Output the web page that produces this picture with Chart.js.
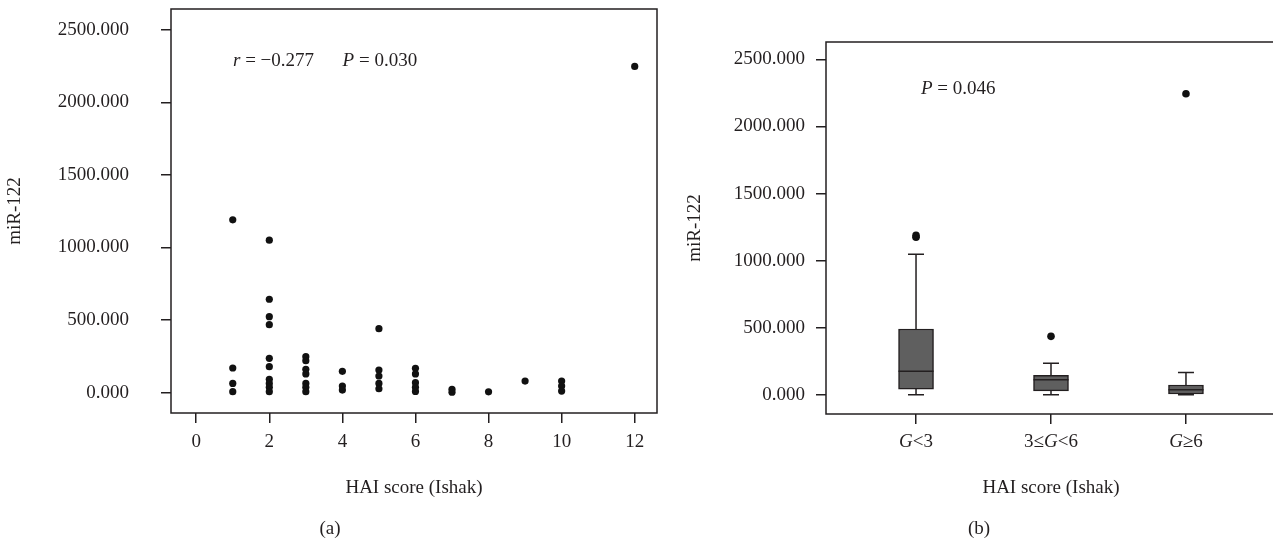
<!DOCTYPE html>
<html>
<head>
<meta charset="utf-8">
<script src="https://cdn.jsdelivr.net/npm/chart.js@4.4.0/dist/chart.umd.min.js"></script>
<style>
  html, body { margin: 0; padding: 0; background: #fff; overflow: hidden; }
  body { width: 1273px; height: 540px; position: relative; font-family: "Liberation Serif", serif; color: #231f20; }
  .panel { position: absolute; top: 0; height: 540px; }
  #wrapA { left: 0; width: 670px; }
  #wrapB { left: 680px; width: 600px; }
  .cap { position: absolute; top: 517px; font-size: 19px; line-height: 22px; transform: translateX(-50%); }
</style>
</head>
<body>
<div class="panel" id="wrapA"><canvas id="chartA" width="670" height="540"></canvas></div>
<div class="panel" id="wrapB"><canvas id="chartB" width="600" height="540"></canvas></div>
<div class="cap" style="left:330px">(a)</div>
<div class="cap" style="left:979px">(b)</div>
<script>
// (a) scatter: HAI score vs miR-122
const haiScore = [1, 1, 1, 1,
  2, 2, 2, 2, 2, 2, 2, 2, 2, 2,
  3, 3, 3, 3, 3, 3, 3,
  4, 4, 4,
  5, 5, 5, 5, 5,
  6, 6, 6, 6, 6,
  7, 7, 8, 9, 10, 10, 10, 12];
const mir122 = [1190, 169, 63, 6,
  1050, 643, 523, 468, 236, 178, 91, 63, 36, 6,
  247, 219, 160, 128, 63, 36, 6,
  146, 45, 17,
  440, 155, 114, 63, 26,
  167, 128, 68, 36, 8,
  22, 2, 5, 79, 79, 45, 10, 2247];
const xTicksA = [0, 2, 4, 6, 8, 10, 12];
const yTicks = [0, 500, 1000, 1500, 2000, 2500];

// (b) box plot by grade group
const groups = ['G<3', '3≤G<6', 'G≥6'];
const groupPos = [1, 2, 3];
const boxMin = [0, 0, 0];
const boxQ1 = [42, 28, 5];
const boxMedian = [174, 112, 37];
const boxQ3 = [490, 144, 72];
const boxMax = [1047, 234, 166];
const outlierGroup = [1, 1, 2, 3];
const outlierValue = [1174, 1188, 435, 2244];

const ink = '#231f20';
const serif = 'Liberation Serif';
const tickFont = { family: serif, size: 19 };

// draws a string where some pieces are italic
function drawMixed(ctx, parts, x, y, align) {
  ctx.save();
  ctx.textBaseline = 'middle';
  ctx.fillStyle = ink;
  let total = 0;
  parts.forEach(p => {
    ctx.font = (p[1] ? 'italic ' : '') + '19px "' + serif + '"';
    total += ctx.measureText(p[0]).width;
  });
  let cx = align === 'center' ? x - total / 2 : x;
  parts.forEach(p => {
    ctx.font = (p[1] ? 'italic ' : '') + '19px "' + serif + '"';
    ctx.textAlign = 'left';
    ctx.fillText(p[0], cx, y);
    cx += ctx.measureText(p[0]).width;
  });
  ctx.restore();
}

const framePlugin = {
  id: 'frame',
  afterDraw(chart) {
    const a = chart.chartArea, ctx = chart.ctx;
    ctx.save();
    ctx.strokeStyle = ink;
    ctx.lineWidth = 1.5;
    ctx.strokeRect(a.left, a.top, a.right - a.left, a.bottom - a.top);
    ctx.restore();
  }
};

function yAxis(min, max, width, pad) {
  return {
    type: 'linear', min: min, max: max,
    afterBuildTicks: s => { s.ticks = yTicks.map(v => ({ value: v })); },
    afterFit: s => { s.width = width; s.paddingTop = 0; s.paddingBottom = 0; },
    grid: { drawOnChartArea: false, drawTicks: true, tickLength: 10, color: ink, lineWidth: 1.5 },
    border: { display: false },
    ticks: { font: tickFont, color: ink, padding: pad, callback: v => Number(v).toFixed(3) },
    title: { display: true, text: 'miR-122', font: tickFont, color: ink, padding: { top: 4, bottom: 0 } }
  };
}

// ---------- chart (a)
new Chart(document.getElementById('chartA'), {
  type: 'scatter',
  data: {
    datasets: [{
      data: haiScore.map((h, i) => ({ x: h, y: mir122[i] })),
      pointRadius: 3.6,
      pointBackgroundColor: '#111',
      pointBorderWidth: 0
    }]
  },
  options: {
    responsive: false,
    animation: false,
    layout: { padding: { top: 9, right: 13, bottom: 0, left: 0 } },
    plugins: { legend: { display: false }, tooltip: { enabled: false } },
    scales: {
      x: {
        type: 'linear', min: -0.69, max: 12.61, offset: false,
        afterBuildTicks: s => { s.ticks = xTicksA.map(v => ({ value: v })); },
        afterFit: s => { s.height = 127; },
        grid: { drawOnChartArea: false, drawTicks: true, tickLength: 10, color: ink, lineWidth: 1.5 },
        border: { display: false },
        ticks: { font: tickFont, color: ink, padding: 8 },
        title: { display: true, text: 'HAI score (Ishak)', font: tickFont, color: ink, padding: { top: 0, bottom: 41 } }
      },
      y: yAxis(-141, 2643, 171, 32)
    }
  },
  plugins: [framePlugin, {
    id: 'statsA',
    afterDraw(chart) {
      const a = chart.chartArea;
      drawMixed(chart.ctx, [['r', true], [' = −0.277      ', false], ['P', true], [' = 0.030', false]],
        a.left + 62, a.top + 52, 'left');
    }
  }]
});

// ---------- chart (b)
const boxPlugin = {
  id: 'boxParts',
  beforeDatasetsDraw(chart) {
    const ctx = chart.ctx, xs = chart.scales.x, ys = chart.scales.y;
    ctx.save();
    ctx.strokeStyle = ink;
    ctx.lineWidth = 1.5;
    groupPos.forEach((g, i) => {
      const px = xs.getPixelForValue(g);
      const top = ys.getPixelForValue(boxMax[i]), q3 = ys.getPixelForValue(boxQ3[i]);
      const q1 = ys.getPixelForValue(boxQ1[i]), bot = ys.getPixelForValue(boxMin[i]);
      ctx.beginPath();
      ctx.moveTo(px, top); ctx.lineTo(px, q3);
      ctx.moveTo(px, q1); ctx.lineTo(px, bot);
      ctx.moveTo(px - 8, top); ctx.lineTo(px + 8, top);
      ctx.moveTo(px - 8, bot); ctx.lineTo(px + 8, bot);
      ctx.stroke();
    });
    ctx.restore();
  },
  afterDatasetsDraw(chart) {
    const ctx = chart.ctx, xs = chart.scales.x, ys = chart.scales.y;
    ctx.save();
    ctx.strokeStyle = ink;
    ctx.lineWidth = 1.5;
    groupPos.forEach((g, i) => {
      const px = xs.getPixelForValue(g), py = ys.getPixelForValue(boxMedian[i]);
      ctx.beginPath();
      ctx.moveTo(px - 17.5, py); ctx.lineTo(px + 17.5, py);
      ctx.stroke();
    });
    ctx.restore();
  },
  afterDraw(chart) {
    const a = chart.chartArea, xs = chart.scales.x;
    groupPos.forEach((g, i) => {
      const parts = groups[i].split(/(G)/).filter(s => s).map(s => [s, s === 'G']);
      drawMixed(chart.ctx, parts, xs.getPixelForValue(g), a.bottom + 28, 'center');
    });
    drawMixed(chart.ctx, [['P', true], [' = 0.046', false]], a.left + 95, a.top + 47, 'left');
  }
};

new Chart(document.getElementById('chartB'), {
  type: 'bar',
  data: {
    datasets: [{
      type: 'bar',
      data: groupPos.map((g, i) => ({ x: g, y: [boxQ1[i], boxQ3[i]] })),
      backgroundColor: '#5f5f5f',
      borderColor: ink,
      borderWidth: 1.5,
      borderSkipped: false,
      barThickness: 35,
      grouped: false
    }, {
      type: 'scatter',
      data: outlierGroup.map((g, i) => ({ x: g, y: outlierValue[i] })),
      pointRadius: 3.8,
      pointBackgroundColor: '#111',
      pointBorderWidth: 0,
      showLine: false
    }]
  },
  options: {
    responsive: false,
    animation: false,
    layout: { padding: { top: 42, right: 4, bottom: 0, left: 0 } },
    plugins: { legend: { display: false }, tooltip: { enabled: false } },
    scales: {
      x: {
        type: 'linear', min: 0.333, max: 3.667, offset: false,
        afterBuildTicks: s => { s.ticks = groupPos.map(v => ({ value: v })); },
        afterFit: s => { s.height = 126; },
        grid: { drawOnChartArea: false, drawTicks: true, tickLength: 10, color: ink, lineWidth: 1.5, offset: false },
        border: { display: false },
        ticks: { font: tickFont, color: ink, padding: 8, callback: () => '' },
        title: { display: true, text: 'HAI score (Ishak)', font: tickFont, color: ink, padding: { top: 0, bottom: 41 } }
      },
      y: yAxis(-144, 2630, 146, 11)
    }
  },
  plugins: [framePlugin, boxPlugin]
});
</script>
</body>
</html>
